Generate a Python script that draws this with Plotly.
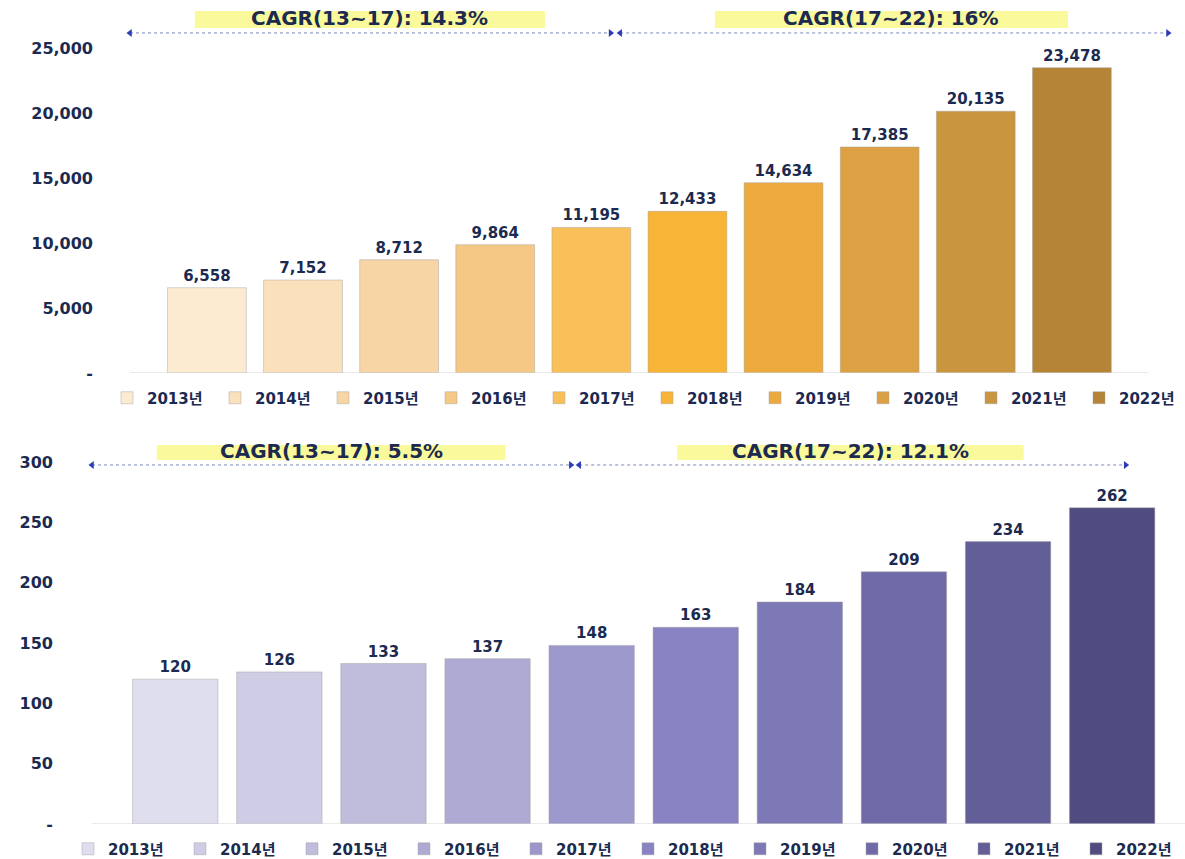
import plotly.graph_objects as go

categories = ["2013년", "2014년", "2015년", "2016년", "2017년",
              "2018년", "2019년", "2020년", "2021년", "2022년"]
top_values = [6558, 7152, 8712, 9864, 11195, 12433, 14634, 17385, 20135, 23478]
bottom_values = [120, 126, 133, 137, 148, 163, 184, 209, 234, 262]
top_ticks = [0, 5000, 10000, 15000, 20000, 25000]
bottom_ticks = [0, 50, 100, 150, 200, 250, 300]
top_cagr = ["CAGR(13~17): 14.3%", "CAGR(17~22): 16%"]
bottom_cagr = ["CAGR(13~17): 5.5%", "CAGR(17~22): 12.1%"]

top_colors = ["#fcebd0", "#fbe0bc", "#f8d5a4", "#f6c885", "#f9c05a",
              "#f7b436", "#ecaa3e", "#dca144", "#c9963f", "#b58437"]
bottom_colors = ["#dfdeee", "#cfcde6", "#bfbcdc", "#aeaad3", "#9c98cc",
                 "#8883c2", "#7d78b6", "#706ba8", "#625e98", "#504b80"]

NAVY = "#1c2a50"
FONT = "DejaVu Sans, Noto Sans CJK KR"
x_idx = list(range(len(categories)))

fig = go.Figure()

for i, cat in enumerate(categories):
    fig.add_trace(go.Bar(
        x=[x_idx[i]], y=[top_values[i]], name=cat, width=0.82,
        marker=dict(color=top_colors[i], line=dict(color="rgba(160,160,160,0.45)", width=1)),
        text=[f"{top_values[i]:,}"], textposition="outside", cliponaxis=False,
        textfont=dict(family=FONT, size=15, color=NAVY, weight="bold"),
        xaxis="x", yaxis="y", legend="legend"))

for i, cat in enumerate(categories):
    fig.add_trace(go.Bar(
        x=[x_idx[i]], y=[bottom_values[i]], name=cat, width=0.82,
        marker=dict(color=bottom_colors[i], line=dict(color="rgba(160,160,160,0.45)", width=1)),
        text=[f"{bottom_values[i]}"], textposition="outside", cliponaxis=False,
        textfont=dict(family=FONT, size=15, color=NAVY, weight="bold"),
        xaxis="x2", yaxis="y2", legend="legend2"))

ARROW = "#2b3db5"
def add_arrow(x0, x1, y, xa, ya):
    fig.add_trace(go.Scatter(
        x=[x0, x1], y=[y, y], mode="lines+markers", showlegend=False,
        hoverinfo="skip", cliponaxis=False,
        line=dict(color="#7b86c0", width=1, dash="dot"),
        marker=dict(symbol=["triangle-left", "triangle-right"], size=7, color=ARROW),
        xaxis=xa, yaxis=ya))

add_arrow(-0.8, 4.2, 26150, "x", "y")
add_arrow(4.3, 10.0, 26150, "x", "y")
add_arrow(-0.8, 3.8, 297.5, "x2", "y2")
add_arrow(3.88, 9.13, 297.5, "x2", "y2")

def cagr_label(text, x0, x1, y0, y1, xr, yr):
    fig.add_shape(type="rect", x0=x0, x1=x1, y0=y0, y1=y1, xref=xr, yref=yr,
                  fillcolor="#fafa9c", line=dict(width=0), layer="below")
    fig.add_annotation(x=(x0 + x1) / 2, y=(y0 + y1) / 2, xref=xr, yref=yr,
                       text=text, showarrow=False, yshift=1,
                       font=dict(family="DejaVu Sans", size=20, color=NAVY, weight="bold"))

cagr_label(top_cagr[0], -0.125, 3.517, 26538, 27846, "x", "y")
cagr_label(top_cagr[1], 5.286, 8.96, 26538, 27846, "x", "y")
cagr_label(bottom_cagr[0], -0.178, 3.172, 301.6, 314.1, "x2", "y2")
cagr_label(bottom_cagr[1], 4.82, 8.15, 301.6, 314.1, "x2", "y2")

# baselines
fig.add_shape(type="line", x0=-0.8, x1=9.8, y0=0, y1=0, xref="x", yref="y",
              line=dict(color="#d4d4d4", width=1))
fig.add_shape(type="line", x0=-0.8, x1=9.7, y0=0, y1=0, xref="x2", yref="y2",
              line=dict(color="#d4d4d4", width=1))

tickfont = dict(family=FONT, size=16, color=NAVY, weight="bold")
legfont = dict(family=FONT, size=15, color=NAVY, weight="bold")

fig.update_layout(
    width=1185, height=859,
    margin=dict(l=0, r=0, t=0, b=0, autoexpand=False),
    paper_bgcolor="white", plot_bgcolor="white",
    barmode="overlay",
    showlegend=True,
    xaxis=dict(domain=[130/1185, 1168/1185], range=[-0.8, 10.0], showticklabels=False,
               showgrid=False, zeroline=False, showline=False, anchor="y"),
    yaxis=dict(domain=[(859-373)/859, (859-5)/859], range=[0, 28300],
               tickvals=top_ticks,
               ticktext=["-" if v == 0 else f"{v:,}" for v in top_ticks],
               tickfont=tickfont, showgrid=False, zeroline=False, showline=False,
               ticklabelstandoff=36, anchor="x"),
    xaxis2=dict(domain=[92/1185, 1.0], range=[-0.8, 9.7], showticklabels=False,
                showgrid=False, zeroline=False, showline=False, anchor="y2"),
    yaxis2=dict(domain=[(859-824)/859, (859-440)/859], range=[0, 318.2],
                tickvals=bottom_ticks,
                ticktext=["-" if v == 0 else f"{v}" for v in bottom_ticks],
                tickfont=tickfont, showgrid=False, zeroline=False, showline=False,
                ticklabelstandoff=38, anchor="x2"),
    legend=dict(orientation="h", x=107/1185, y=(859-398)/859, xanchor="left", yanchor="middle",
                font=legfont, itemwidth=30, entrywidth=63, tracegroupgap=0,
                bgcolor="rgba(0,0,0,0)"),
    legend2=dict(orientation="h", x=68/1185, y=(859-849)/859, xanchor="left", yanchor="middle",
                 font=legfont, itemwidth=30, entrywidth=67, tracegroupgap=0,
                 bgcolor="rgba(0,0,0,0)"),
)

fig.write_html("out.html")
